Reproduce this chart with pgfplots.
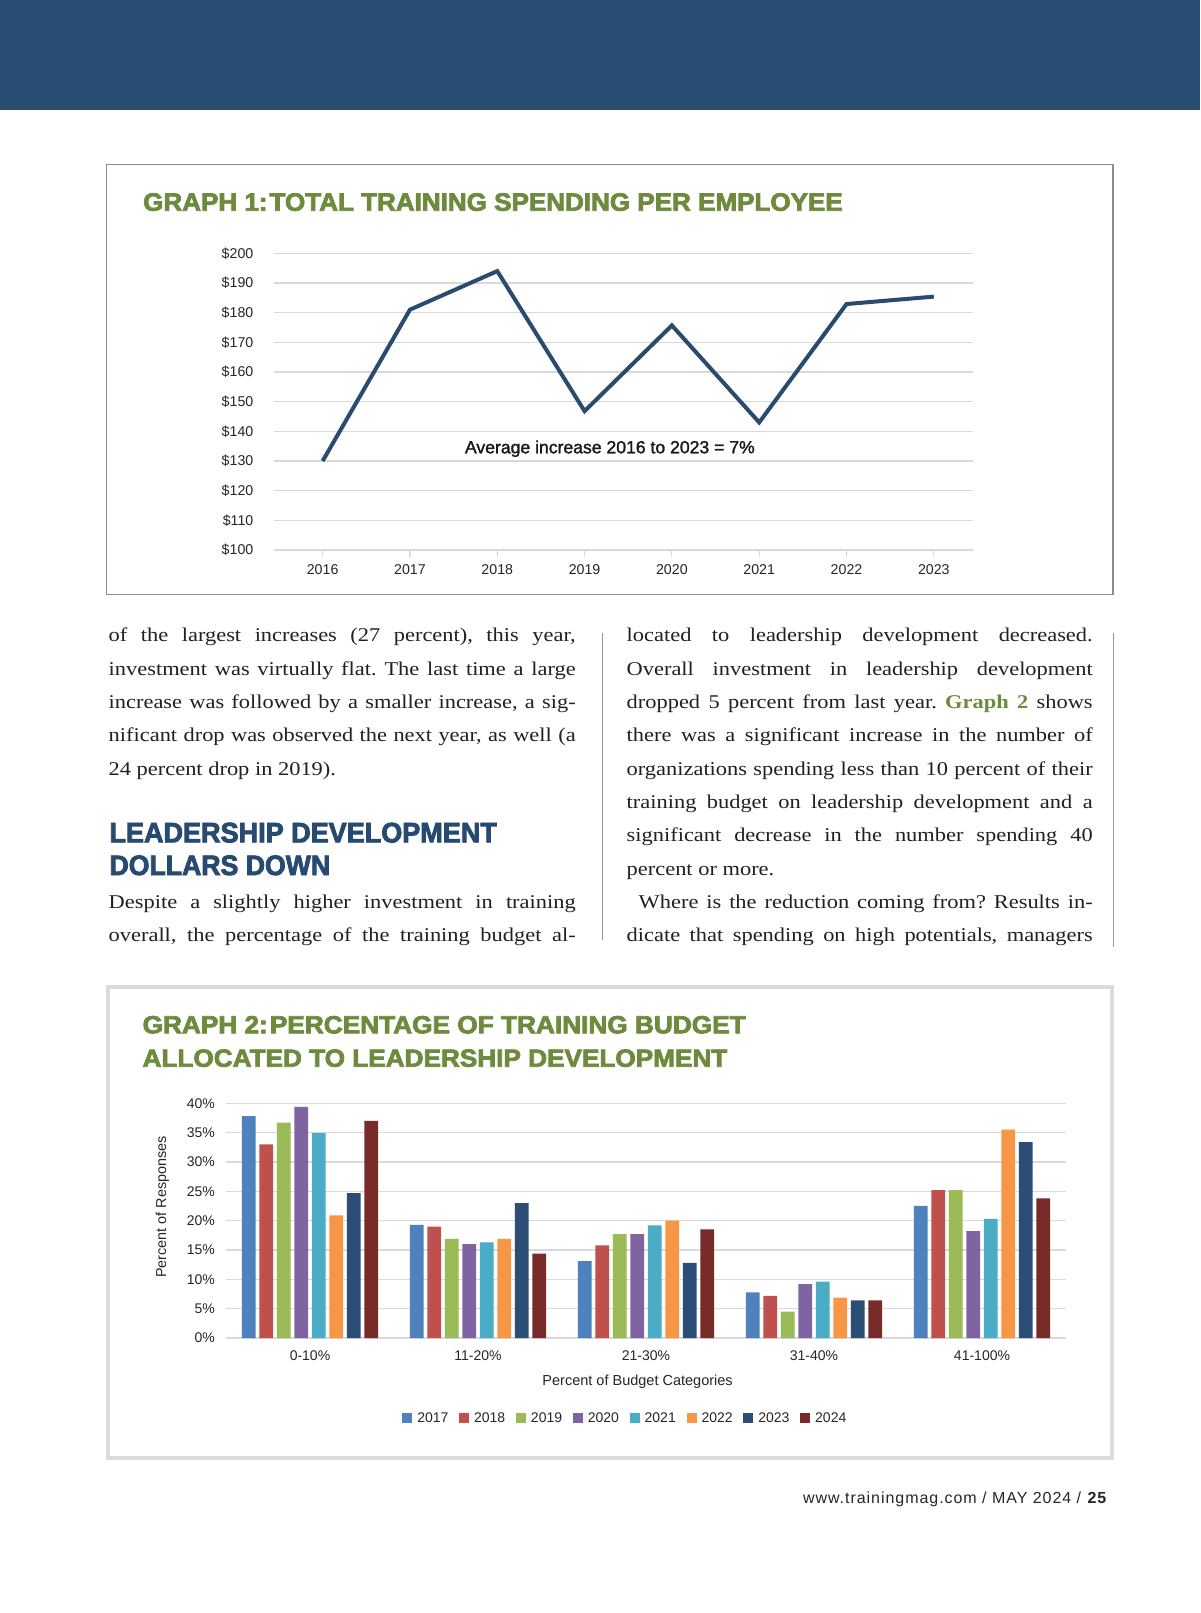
\documentclass[border=0pt]{standalone}
\usepackage{pgfplots}
\pgfplotsset{compat=1.18}
\usepackage{pgfplotstable}
\usepackage{graphicx}
\usepackage{fontspec}
\setmainfont{Liberation Serif}[FakeStretch=1.15]
\newfontfamily\hel{Liberation Sans}
\newfontfamily\helmed{Liberation Sans}[FakeBold=1.6]
\newfontfamily\heavy{Liberation Sans Bold}[FakeBold=3]
\frenchspacing

\definecolor{band}{RGB}{40,78,116}
\definecolor{navyhead}{RGB}{38,74,112}
\definecolor{tgreen}{RGB}{110,139,61}
\definecolor{linecol}{RGB}{43,75,110}
\definecolor{gridc}{RGB}{217,217,217}
\definecolor{bodyc}{RGB}{35,31,32}
\definecolor{c17}{RGB}{79,129,189}
\definecolor{c18}{RGB}{192,80,77}
\definecolor{c19}{RGB}{155,187,89}
\definecolor{c20}{RGB}{128,100,162}
\definecolor{c21}{RGB}{75,172,198}
\definecolor{c22}{RGB}{247,150,70}
\definecolor{c23}{RGB}{44,77,117}
\definecolor{c24}{RGB}{119,44,42}

\pgfplotstableread{
year cost
2016 130
2017 181
2018 194
2019 146.8
2020 175.7
2021 143
2022 182.9
2023 185.4
}\spend

\pgfplotstableread{
x y17 y18 y19 y20 y21 y22 y23 y24
0 37.8 33.0 36.7 39.4 34.9 20.9 24.7 37.0
1 19.3 19.0 16.9 16.0 16.3 16.9 23.0 14.4
2 13.1 15.8 17.7 17.7 19.2 20.0 12.8 18.5
3 7.8 7.2 4.5 9.2 9.6 6.9 6.4 6.4
4 22.5 25.2 25.2 18.2 20.3 35.5 33.4 23.8
}\budget

\newcommand{\jl}[1]{\makebox[467pt][s]{#1}}
\newcommand{\jr}[1]{\makebox[466pt][s]{#1}}

\begin{document}
\begin{tikzpicture}[x=1pt,y=1pt,
  body/.style={anchor=base west, inner sep=0pt, text=bodyc, font=\fontsize{19.5}{20}\selectfont}]
\useasboundingbox (0,0) rectangle (1200,-1613);
\fill[white] (0,0) rectangle (1200,-1613);
\fill[band] (0,0) rectangle (1200,-110);

% ---------- Graph 1 ----------
\draw[color=black!45, line width=1.2pt] (106.5,-164.5) rectangle (1113,-594.5);
\node[anchor=base west, inner sep=0pt, text=tgreen] at (143,-210.7)
  {\resizebox{699.5pt}{17.5pt}{\heavy GRAPH 1:\kern-2pt\ TOTAL TRAINING SPENDING PER EMPLOYEE}};

\begin{axis}[
  at={(274pt,-550pt)}, anchor=south west, scale only axis,
  width=698.5pt, height=296.7pt,
  xmin=2015.443, xmax=2023.443, ymin=100, ymax=200, enlargelimits=false,
  axis line style={draw=none},
  ymajorgrids, grid style={color=gridc, line width=1.2pt},
  xtick={2016,2017,2018,2019,2020,2021,2022,2023},
  xticklabels={2016,2017,2018,2019,2020,2021,2022,2023},
  ytick={100,110,120,130,140,150,160,170,180,190,200},
  yticklabels={\$100,\$110,\$120,\$130,\$140,\$150,\$160,\$170,\$180,\$190,\$200},
  xtick pos=bottom, ytick pos=left,
  tick align=outside, major tick length=6.7pt,
  xtick style={color=gridc, line width=1.2pt},
  ytick style={draw=none},
  ticklabel style={font=\hel\fontsize{14.2}{14.2}\selectfont, inner sep=0pt, text=black!85},
  yticklabel style={xshift=-13.8pt},
  xticklabel style={yshift=-7.4pt},
  clip=false
]
\addplot[color=linecol, line width=4pt, mark=none] table[x=year,y=cost]{\spend};
\node[anchor=base, inner sep=0pt, font=\helmed\fontsize{17.6}{17.6}\selectfont, text=black!90]
  at (axis cs:2019.29,132.6) {Average increase 2016 to 2023 = 7\%};
\end{axis}

% ---------- Body text ----------
\draw[color=black!40, line width=1pt] (602,-633) -- (602,-940);
\draw[color=black!40, line width=1pt] (1113,-633) -- (1113,-947);

\node[body] at (108.5,-641.7) {\jl{of the largest increases (27 percent), this year,}};
\node[body] at (108.5,-675.0) {\jl{investment was virtually flat. The last time a large}};
\node[body] at (108.5,-708.3) {\jl{increase was followed by a smaller increase, a sig-}};
\node[body] at (108.5,-741.7) {\jl{nificant drop was observed the next year, as well (a}};
\node[body] at (108.5,-775.0) {24 percent drop in 2019).};
\node[anchor=base west, inner sep=0pt, text=navyhead] at (109.3,-842.3)
  {\resizebox{387.4pt}{19.6pt}{\heavy LEADERSHIP DEVELOPMENT}};
\node[anchor=base west, inner sep=0pt, text=navyhead] at (109.3,-875.0)
  {\resizebox{220.7pt}{19.6pt}{\heavy DOLLARS DOWN}};
\node[body] at (108.5,-908.3) {\jl{Despite a slightly higher investment in training}};
\node[body] at (108.5,-941.7) {\jl{overall, the percentage of the training budget al-}};

\node[body] at (626.5,-641.7) {\jr{located to leadership development decreased.}};
\node[body] at (626.5,-675.0) {\jr{Overall investment in leadership development}};
\node[body] at (626.5,-708.3) {\jr{dropped 5 percent from last year. {\bfseries\color{tgreen}Graph 2} shows}};
\node[body] at (626.5,-741.7) {\jr{there was a significant increase in the number of}};
\node[body] at (626.5,-775.0) {\jr{organizations spending less than 10 percent of their}};
\node[body] at (626.5,-808.3) {\jr{training budget on leadership development and a}};
\node[body] at (626.5,-841.7) {\jr{significant decrease in the number spending 40}};
\node[body] at (626.5,-875.0) {percent or more.};
\node[body] at (626.5,-908.3) {\jr{\hspace*{12pt}Where is the reduction coming from? Results in-}};
\node[body] at (626.5,-941.7) {\jr{dicate that spending on high potentials, managers}};

% ---------- Graph 2 ----------
\draw[color=black!14, line width=4pt] (107.5,-987) rectangle (1112,-1458);
\node[anchor=base west, inner sep=0pt, text=tgreen] at (142.4,-1033.3)
  {\resizebox{603pt}{17.3pt}{\heavy GRAPH 2:\kern-2pt\ PERCENTAGE OF TRAINING BUDGET}};
\node[anchor=base west, inner sep=0pt, text=tgreen] at (142.4,-1066.7)
  {\resizebox{584.6pt}{17.3pt}{\heavy ALLOCATED TO LEADERSHIP DEVELOPMENT}};

\begin{axis}[
  at={(226pt,-1338pt)}, anchor=south west, scale only axis,
  width=840pt, height=234.7pt,
  xmin=-0.5, xmax=4.5, ymin=0, ymax=40, enlargelimits=false,
  ybar=3.6pt, bar width=13.9pt,
  axis line style={draw=none},
  ymajorgrids, grid style={color=gridc, line width=1.2pt},
  major tick length=0pt, tick style={draw=none},
  xtick={0,1,2,3,4},
  xticklabels={0-10\%,11-20\%,21-30\%,31-40\%,41-100\%},
  ytick={0,5,10,15,20,25,30,35,40},
  yticklabels={0\%,5\%,10\%,15\%,20\%,25\%,30\%,35\%,40\%},
  ticklabel style={font=\hel\fontsize{14}{14}\selectfont, inner sep=0pt, text=black!85},
  yticklabel style={xshift=-11pt},
  xticklabel style={yshift=-12.7pt},
  legend columns=8,
  legend style={at={(0.4742,-0.342)}, anchor=center, draw=none, fill=none,
    inner sep=0pt, font=\hel\fontsize{14}{14}\selectfont, text=black!85,
    cells={anchor=west}, nodes={inner sep=0pt},
    /tikz/every even column/.append style={column sep=10.7pt},
    /tikz/every odd column/.append style={column sep=5pt}},
  legend image code/.code={\path[#1] (0pt,-5pt) rectangle (10pt,5pt);},
  clip=false
]
\addplot[fill=c17, draw=none] table[x=x,y=y17]{\budget};
\addplot[fill=c18, draw=none] table[x=x,y=y18]{\budget};
\addplot[fill=c19, draw=none] table[x=x,y=y19]{\budget};
\addplot[fill=c20, draw=none] table[x=x,y=y20]{\budget};
\addplot[fill=c21, draw=none] table[x=x,y=y21]{\budget};
\addplot[fill=c22, draw=none] table[x=x,y=y22]{\budget};
\addplot[fill=c23, draw=none] table[x=x,y=y23]{\budget};
\addplot[fill=c24, draw=none] table[x=x,y=y24]{\budget};
\legend{2017,2018,2019,2020,2021,2022,2023,2024}
\end{axis}

\node[rotate=90, inner sep=0pt, font=\hel\fontsize{14.4}{14.4}\selectfont, text=black!85] at (162.5,-1207) {Percent of Responses};
\node[anchor=base, inner sep=0pt, font=\hel\fontsize{14.5}{14.5}\selectfont, text=black!85] at (637.6,-1385.5) {Percent of Budget Categories};

% ---------- Footer ----------
\node[anchor=base east, inner sep=0pt, text=black!85] at (1107.5,-1503)
  {\hel\addfontfeature{LetterSpace=6}\fontsize{16}{16}\selectfont www.trainingmag.com / MAY 2024 / \textbf{25}};
\end{tikzpicture}
\end{document}
